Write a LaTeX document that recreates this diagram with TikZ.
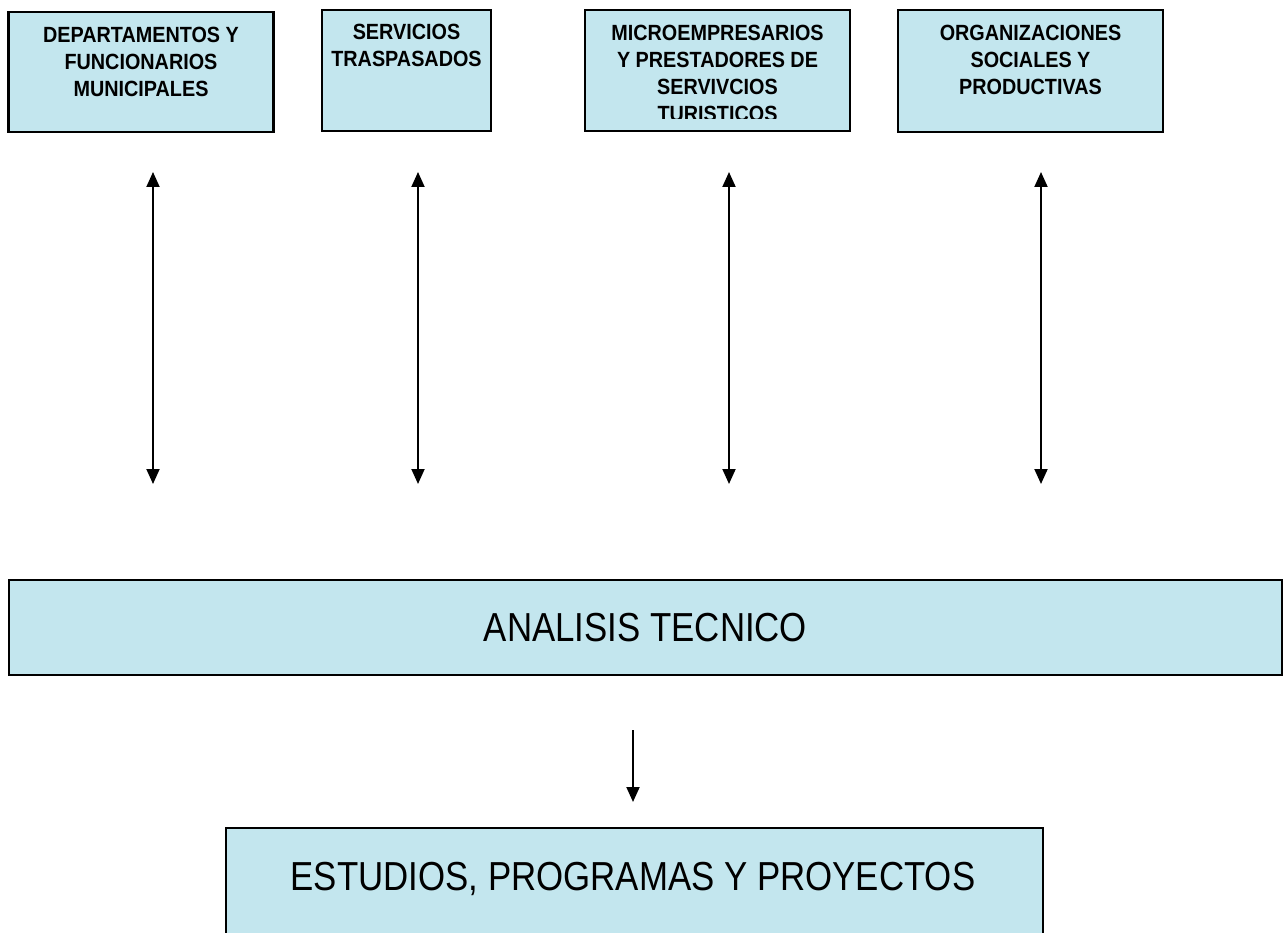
\documentclass[tikz,border=0pt]{standalone}
\usepackage{fontspec}
\setmainfont{Liberation Sans}
\newfontfamily\narrowfont{Liberation Sans}[FakeStretch=0.9]
\newfontfamily\bignarrowfont{Liberation Sans}[FakeStretch=0.86]
\usetikzlibrary{arrows.meta}
\definecolor{boxfill}{RGB}{195,230,238}
\tikzset{
  box/.style={draw=black, line width=2.4pt, fill=boxfill, inner sep=0pt},
  toptext/.style={anchor=north, align=center, inner sep=0pt, font=\narrowfont\bfseries\fontsize{22}{27}\selectfont},
  bigtext/.style={inner sep=0pt, font=\bignarrowfont\fontsize{40.5}{46}\selectfont},
  link/.style={line width=1.9pt, {Triangle[width=13pt,length=15pt]}-{Triangle[width=13pt,length=15pt]}},
  down/.style={line width=1.9pt, -{Triangle[width=13pt,length=15pt]}}
}
\begin{document}
\begin{tikzpicture}[x=1pt,y=-1pt]
\useasboundingbox (0,0) rectangle (1286,933);
\clip (0,0) rectangle (1286,933);
% top boxes
\node[box, minimum width=265pt, minimum height=120pt] (b1) at (141,72) {};
\node[box, minimum width=169pt, minimum height=121pt] (b2) at (406.5,70.5) {};
\node[box, minimum width=265pt, minimum height=121pt] (b3) at (717.5,70.5) {};
\node[box, minimum width=265pt, minimum height=122pt] (b4) at (1030.5,71) {};
\node[toptext] (t1) at ([yshift=-16pt]b1.north) {DEPARTAMENTOS Y\\FUNCIONARIOS\\MUNICIPALES};
\node[toptext] (t2) at ([yshift=-15pt]b2.north) {SERVICIOS\\TRASPASADOS};
\begin{scope}
\clip (585,10) rectangle (850,119);
\node[toptext] (t3) at ([yshift=-16pt]b3.north) {MICROEMPRESARIOS\\Y PRESTADORES DE\\SERVIVCIOS\\TURISTICOS};
\end{scope}
\node[toptext] (t4) at ([yshift=-16pt]b4.north) {ORGANIZACIONES\\SOCIALES Y\\PRODUCTIVAS};
% big boxes
\node[box, minimum width=1273pt, minimum height=95pt] (an) at (645.5,627.5) {};
\node[bigtext] (ant) at (an.center) {ANALISIS TECNICO};
\node[box, minimum width=817pt, minimum height=140pt] (es) at (634.5,898) {};
\node[bigtext] (est) at (633,879) {ESTUDIOS, PROGRAMAS Y PROYECTOS};
% arrows
\coordinate (a1t) at (153,172); \coordinate (a1b) at (153,484);
\coordinate (a2t) at (418,172); \coordinate (a2b) at (418,484);
\coordinate (a3t) at (729,172); \coordinate (a3b) at (729,484);
\coordinate (a4t) at (1041,172); \coordinate (a4b) at (1041,484);
\draw[link] (a1t) -- (a1b);
\draw[link] (a2t) -- (a2b);
\draw[link] (a3t) -- (a3b);
\draw[link] (a4t) -- (a4b);
\coordinate (dt) at (633,730); \coordinate (db) at (633,802);
\draw[down] (dt) -- (db);
\end{tikzpicture}
\end{document}
